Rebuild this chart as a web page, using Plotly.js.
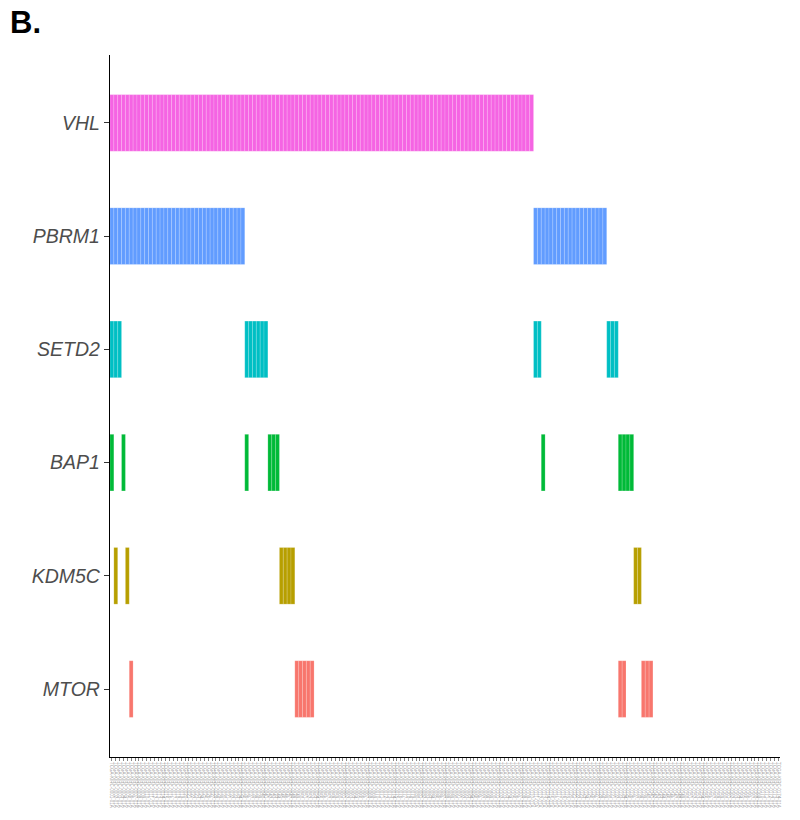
<!DOCTYPE html>
<html>
<head>
<meta charset="utf-8">
<script src="https://cdn.plot.ly/plotly-3.0.1.min.js"></script>
<style>html,body{margin:0;padding:0;background:#fff;}</style>
</head>
<body>
<div id="chart" style="width:800px;height:820px;"></div>
<script>
// Genes, bottom to top
const genes = ['MTOR', 'KDM5C', 'BAP1', 'SETD2', 'PBRM1', 'VHL'];
const geneColors = ['#F8766D', '#B79F00', '#00BA38', '#00BFC4', '#619CFF', '#F564E3'];
const nSamples = 174;
// Mutated samples per gene, as runs [first, last] of sample positions
const runsVHL   = [[1, 110]];
const runsPBRM1 = [[1, 35], [111, 129]];
const runsSETD2 = [[1, 3], [36, 41], [111, 112], [130, 132]];
const runsBAP1  = [[1, 1], [4, 4], [36, 36], [42, 44], [113, 113], [133, 136]];
const runsKDM5C = [[2, 2], [5, 5], [45, 48], [137, 138]];
const runsMTOR  = [[6, 6], [49, 53], [133, 134], [139, 141]];
const geneRuns = [runsMTOR, runsKDM5C, runsBAP1, runsSETD2, runsPBRM1, runsVHL];
// Sample tick labels (unreadable in the reference; placeholder IDs)
const sampleIds = [];
for (let i = 1; i <= nSamples; i++) sampleIds.push('TCGA-KIRC-' + String(i).padStart(4, '0') + '-01A');

const traces = genes.map((g, gi) => {
  const xs = [];
  geneRuns[gi].forEach(([a, b]) => { for (let s = a; s <= b; s++) xs.push(s); });
  return {
    type: 'bar',
    name: g,
    x: xs,
    y: xs.map(() => 0.5),
    base: xs.map(() => gi + 1 - 0.25),
    width: 1,
    marker: { color: geneColors[gi], line: { color: 'rgba(255,255,255,0.28)', width: 0.6 } },
    hoverinfo: 'x+name',
    showlegend: false
  };
});

const sampleTicks = [];
for (let i = 1; i <= nSamples; i++) sampleTicks.push(i);

const layout = {
  width: 800, height: 820,
  margin: { l: 110, r: 20, t: 55, b: 63 },
  paper_bgcolor: '#fff', plot_bgcolor: '#fff',
  barmode: 'overlay',
  bargap: 0,
  font: { family: 'Liberation Sans, Arial, sans-serif' },
  xaxis: {
    range: [0.5, nSamples + 0.5],
    tickmode: 'array', tickvals: sampleTicks, ticktext: sampleIds,
    tickangle: 90,
    tickfont: { size: 4.5, color: '#9A9A9A' },
    ticks: 'outside', ticklen: 3, tickcolor: '#333333', tickwidth: 0.6,
    showline: true, linecolor: '#000000', linewidth: 1.2,
    showgrid: false, zeroline: false, fixedrange: true
  },
  yaxis: {
    range: [0.4, 6.6],
    tickmode: 'array', tickvals: [1, 2, 3, 4, 5, 6], ticktext: genes,
    tickfont: { size: 19.5, color: '#4D4D4D', style: 'italic' },
    ticks: 'outside', ticklen: 5, tickcolor: '#333333', tickwidth: 1,
    showline: true, linecolor: '#000000', linewidth: 1.2,
    showgrid: false, zeroline: false, fixedrange: true
  },
  annotations: [{
    text: '<b>B.</b>', xref: 'paper', yref: 'paper',
    x: -0.152, y: 1.047, xanchor: 'left', yanchor: 'middle',
    showarrow: false, font: { size: 31, color: '#000000', family: 'Liberation Sans, Arial, sans-serif' }
  }]
};

Plotly.newPlot('chart', traces, layout, { displayModeBar: false, staticPlot: true });
</script>
</body>
</html>
